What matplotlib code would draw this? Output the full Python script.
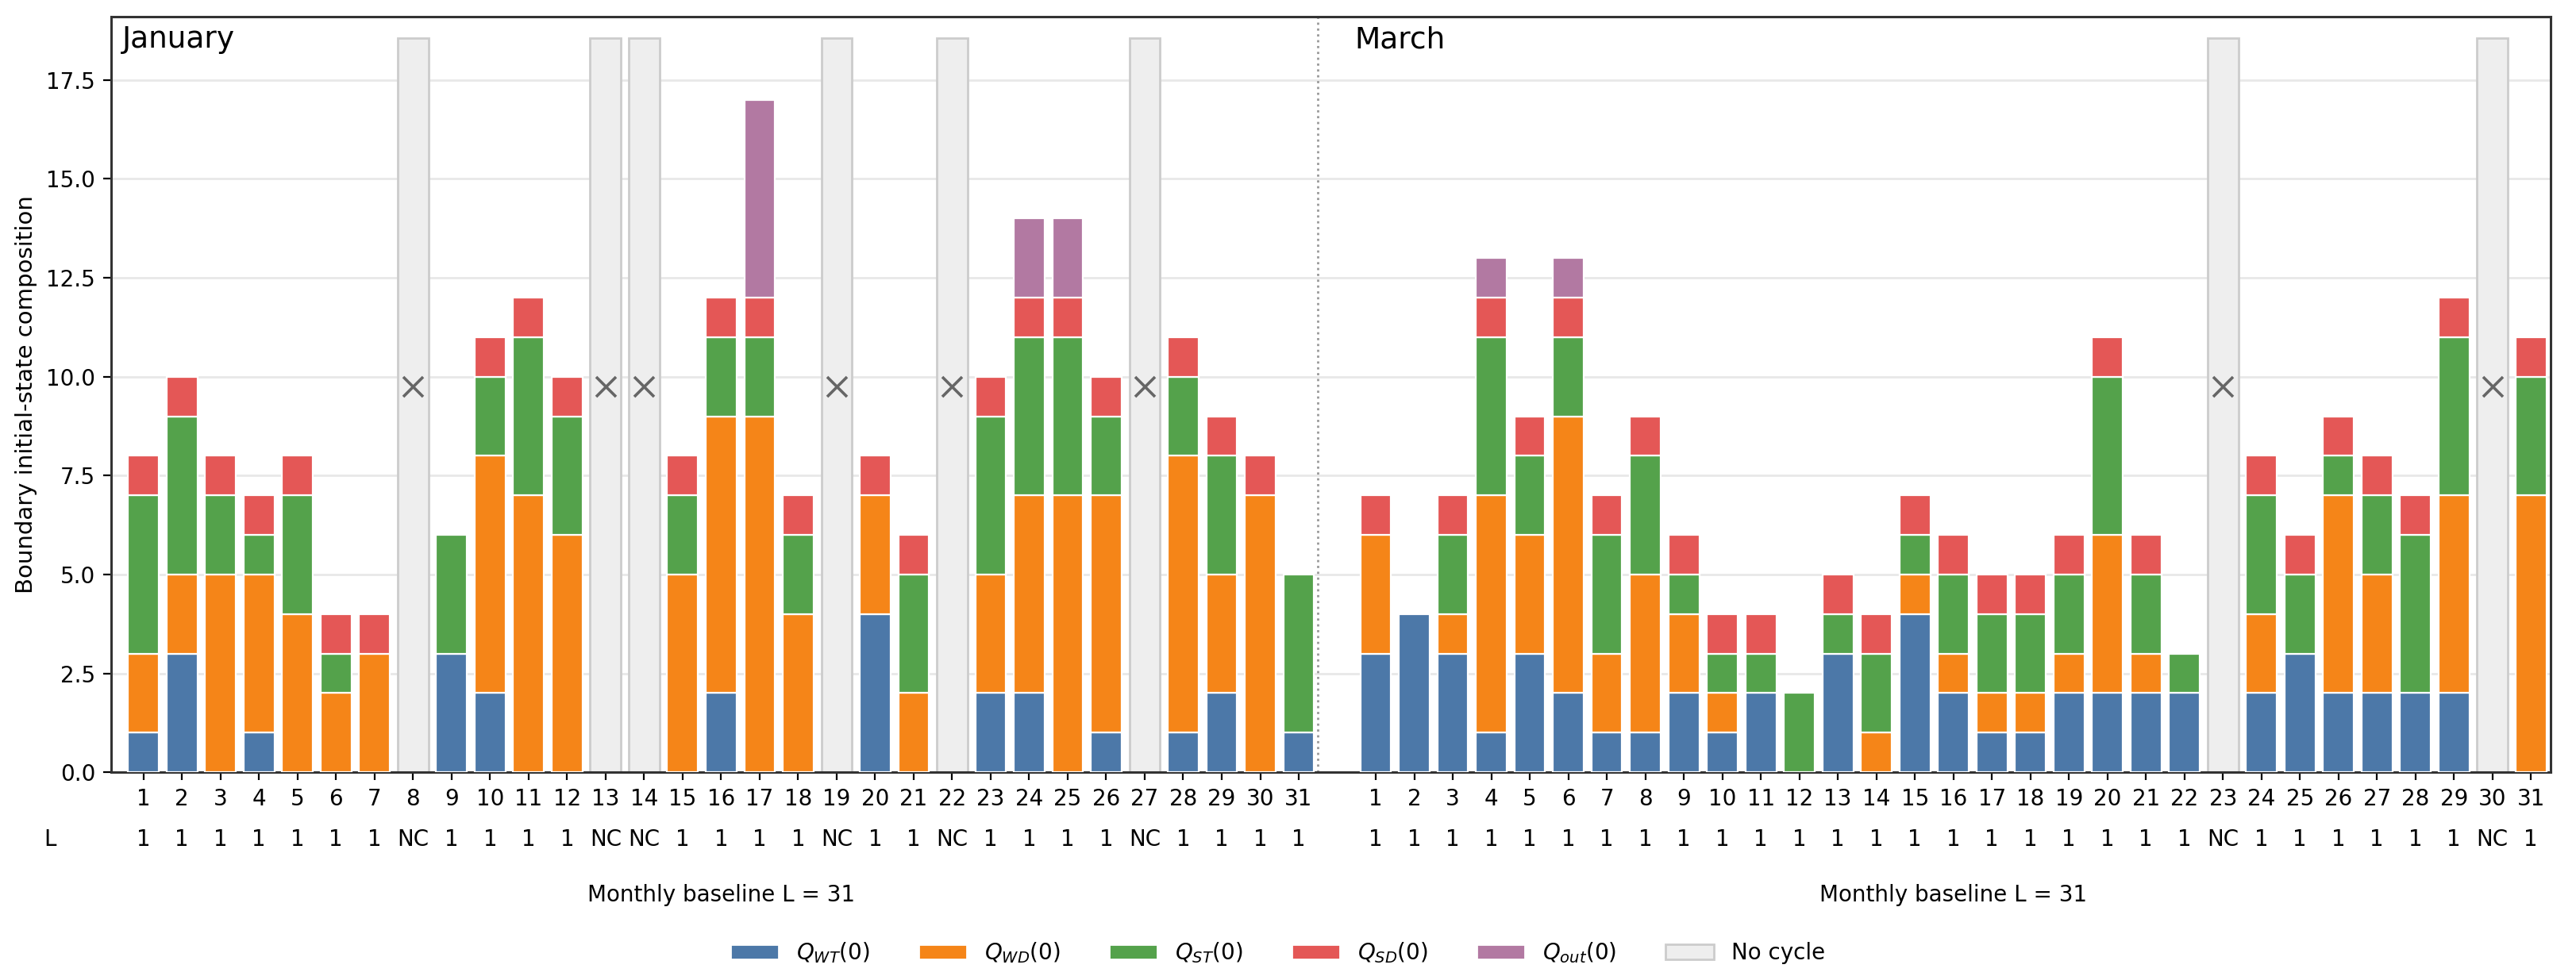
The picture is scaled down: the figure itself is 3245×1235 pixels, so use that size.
"""Boundary initial-state composition, January and March."""
import numpy as np
import matplotlib
matplotlib.use("Agg")
import matplotlib.pyplot as plt
from matplotlib.patches import Patch
from matplotlib.transforms import blended_transform_factory

# -------------------------------------------------------
# Data, one value per day, NC = no cycle.
# -------------------------------------------------------
days = list(range(1, 32))

jan_nc = [8, 13, 14, 19, 22, 27]
jan_wt = [1, 3, 0, 1, 0, 0, 0, 0, 3, 2, 0, 0, 0, 0, 0, 2, 0, 0, 0, 4,
          0, 0, 2, 2, 0, 1, 0, 1, 2, 0, 1]
jan_wd = [2, 2, 5, 4, 4, 2, 3, 0, 0, 6, 7, 6, 0, 0, 5, 7, 9, 4, 0, 3,
          2, 0, 3, 5, 7, 6, 0, 7, 3, 7, 0]
jan_st = [4, 4, 2, 1, 3, 1, 0, 0, 3, 2, 4, 3, 0, 0, 2, 2, 2, 2, 0, 0,
          3, 0, 4, 4, 4, 2, 0, 2, 3, 0, 4]
jan_sd = [1, 1, 1, 1, 1, 1, 1, 0, 0, 1, 1, 1, 0, 0, 1, 1, 1, 1, 0, 1,
          1, 0, 1, 1, 1, 1, 0, 1, 1, 1, 0]
jan_out = [0, 0, 0, 0, 0, 0, 0, 0, 0, 0, 0, 0, 0, 0, 0, 0, 5, 0, 0, 0,
           0, 0, 0, 2, 2, 0, 0, 0, 0, 0, 0]

mar_nc = [23, 30]
mar_wt = [3, 4, 3, 1, 3, 2, 1, 1, 2, 1, 2, 0, 3, 0, 4, 2, 1, 1, 2, 2,
          2, 2, 0, 2, 3, 2, 2, 2, 2, 0, 0]
mar_wd = [3, 0, 1, 6, 3, 7, 2, 4, 2, 1, 0, 0, 0, 1, 1, 1, 1, 1, 1, 4,
          1, 0, 0, 2, 0, 5, 3, 0, 5, 0, 7]
mar_st = [0, 0, 2, 4, 2, 2, 3, 3, 1, 1, 1, 2, 1, 2, 1, 2, 2, 2, 2, 4,
          2, 1, 0, 3, 2, 1, 2, 4, 4, 0, 3]
mar_sd = [1, 0, 1, 1, 1, 1, 1, 1, 1, 1, 1, 0, 1, 1, 1, 1, 1, 1, 1, 1,
          1, 0, 0, 1, 1, 1, 1, 1, 1, 0, 1]
mar_out = [0, 0, 0, 1, 0, 1, 0, 0, 0, 0, 0, 0, 0, 0, 0, 0, 0, 0, 0, 0,
           0, 0, 0, 0, 0, 0, 0, 0, 0, 0, 0]

months = ["January", "March"]
baseline_L = 31
comp_labels = [r"$Q_{WT}(0)$", r"$Q_{WD}(0)$", r"$Q_{ST}(0)$",
               r"$Q_{SD}(0)$", r"$Q_{out}(0)$"]
comp_colors = ["#4c78a8", "#f58518", "#54a24b", "#e45756", "#b279a2"]

# -------------------------------------------------------
# Plot.
# -------------------------------------------------------
plt.rcParams["font.family"] = "DejaVu Sans"
plt.rcParams["font.size"] = 10

fig = plt.figure(figsize=(16.225, 6.175), dpi=200)
ax = fig.add_axes([0.043, 0.212, 0.947, 0.771])

month_data = [
    (jan_nc, [jan_wt, jan_wd, jan_st, jan_sd, jan_out]),
    (mar_nc, [mar_wt, mar_wd, mar_st, mar_sd, mar_out]),
]
offsets = [0, 32]
width = 0.8
nc_height = 18.55

xticks = []
xticklabels = []
trans = blended_transform_factory(ax.transData, ax.transAxes)
for off, name, (nc_days, comps) in zip(offsets, months, month_data):
    x = np.array(days) - 1 + off
    bottom = np.zeros(len(days))
    for vals, col in zip(comps, comp_colors):
        vals = np.array(vals, dtype=float)
        keep = vals > 0
        ax.bar(x[keep], vals[keep], width, bottom=bottom[keep], color=col,
               edgecolor="white", linewidth=0.8, zorder=3)
        bottom += vals
    for d in nc_days:
        ax.bar(d - 1 + off, nc_height, width, color="#eeeeee",
               edgecolor="#cccccc", linewidth=1.0, zorder=2)
        ax.plot(d - 1 + off, 9.75, marker="x", color="#666666",
                markersize=9, mew=1.3, zorder=4)
    xticks += list(x)
    xticklabels += [str(d) for d in days]
    # L row under the ticks
    for d, xi in zip(days, x):
        lab = "NC" if d in nc_days else "1"
        ax.text(xi, -0.089, lab, transform=trans, ha="center",
                va="center", fontsize=10)
    ax.text(x.mean(), -0.163, "Monthly baseline L = %d" % baseline_L,
            transform=trans, ha="center", va="center", fontsize=10)
    ax.text(off - 0.55, 0.988, name, transform=trans, ha="left",
            va="top", fontsize=13.5)

ax.text(-0.025, -0.089, "L", transform=ax.transAxes, ha="center",
        va="center", fontsize=10)

ax.axvline(30.5, color="#999999", linestyle=":", linewidth=1.0, zorder=1)

ax.set_xticks(xticks)
ax.set_xticklabels(xticklabels)
ax.set_xlim(-0.85, 62.5)
ax.set_ylim(0, 19.1)
ax.set_yticks(np.arange(0, 17.6, 2.5))
ax.set_ylabel("Boundary initial-state composition", fontsize=10.5)
ax.yaxis.grid(True, color="#e8e8e8", linewidth=1.0, zorder=0)
ax.set_axisbelow(True)
for sp in ax.spines.values():
    sp.set_color("#333333")
    sp.set_linewidth(1.1)

handles = [Patch(facecolor=c, edgecolor="white", label=l)
           for c, l in zip(comp_colors, comp_labels)]
handles.append(Patch(facecolor="#eeeeee", edgecolor="#cccccc",
                     label="No cycle"))
fig.legend(handles=handles, loc="center", bbox_to_anchor=(0.496, 0.028),
           ncol=6, frameon=False, fontsize=10, handlelength=2.2,
           columnspacing=2.2)

fig.savefig("out.png", dpi=200)
